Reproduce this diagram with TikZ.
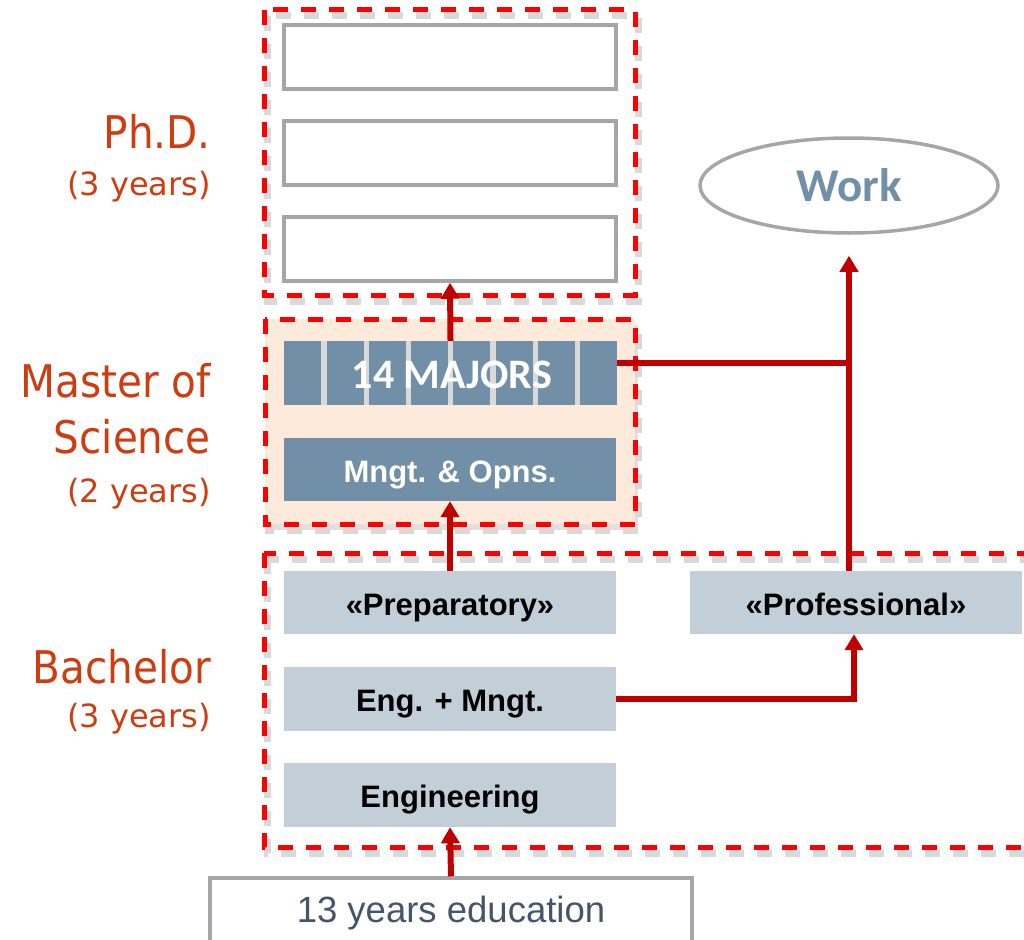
\documentclass[tikz,border=0pt]{standalone}
\usepackage{fontspec}
\setmainfont{Liberation Sans}
\newfontfamily\levelfont[FakeStretch=0.9]{DejaVu Sans}
\newfontfamily\yearfont{DejaVu Sans}
\newfontfamily\calibrifont{Carlito}
\usepackage{xcolor}
\usepackage{tikz}
\usetikzlibrary{calc,positioning,arrows.meta,shapes.geometric}

\definecolor{levelred}{RGB}{207,60,16}
\definecolor{dashred}{RGB}{255,0,0}
\definecolor{arrowred}{RGB}{192,0,0}
\definecolor{steel}{RGB}{113,143,166}
\definecolor{paleblue}{RGB}{194,206,216}
\definecolor{peach}{RGB}{253,234,218}
\definecolor{boxgrey}{RGB}{166,166,166}
\definecolor{gapgrey}{RGB}{217,217,217}
\definecolor{slate}{RGB}{68,84,106}

\begin{document}
\begin{tikzpicture}[x=1pt, y=-1pt,
    level/.style={dashred, line width=5pt, dash pattern=on 15pt off 13pt},
    level shadow/.style={black!15, line width=7pt, dash pattern=on 15pt off 13pt, shift={(3,6)}},
    emptybox/.style={draw=boxgrey, line width=3.5pt, fill=white, minimum width=332pt, minimum height=64pt, inner sep=0},
    darkbox/.style={fill=steel, text=white, font=\bfseries\fontsize{31}{36}\selectfont, text height=25pt, text depth=0pt, minimum width=332pt, minimum height=63pt, inner sep=0},
    lightbox/.style={fill=paleblue, text=black, font=\bfseries\fontsize{31}{36}\selectfont, text height=25pt, text depth=0pt, minimum width=332pt, minimum height=63pt, inner sep=0},
    level name/.style={text=levelred, font=\levelfont\fontsize{45}{50}\selectfont, anchor=base east, inner sep=0},
    level years/.style={text=levelred, font=\yearfont\fontsize{32}{36}\selectfont, anchor=base east, inner sep=0},
    link/.style={arrowred, line width=6pt, -{Triangle[width=18pt,length=16pt]}},
    joint/.style={arrowred, line width=6pt}
]
    \useasboundingbox (0,0) rectangle (1024,939);
    \clip (0,0) rectangle (1024,939);

    % level frames
    \draw[level shadow] (264,10) rectangle (635,295);
    \draw[level shadow, fill=black!12] (265,319) rectangle (635,524);
    \draw[level shadow] (264,553) rectangle (1040,847);
    \fill[peach] (265,319) rectangle (635,524);
    \draw[level] (264,10) rectangle (635,295);
    \draw[level] (265,319) rectangle (635,524);
    \draw[level] (264,553) rectangle (1040,847);

    % Ph.D.
    \node [emptybox] (phd_box1) at (450,57) {};
    \node [emptybox] (phd_box2) at (450,153) {};
    \node [emptybox] (phd_box3) at (450,249) {};

    % Master
    \node [fill=gapgrey, minimum width=333pt, minimum height=64pt, inner sep=0] (majors) at (450.5,373) {};
    \foreach \i in {0,...,7}
        \node [fill=steel, minimum width=37pt, minimum height=64pt, inner sep=0, anchor=west] (major_\i) at ($(284,373)+(\i*42.3,0)$) {};
    \node [text=white, font=\calibrifont\bfseries\fontsize{42}{48}\selectfont, inner sep=0] (majors_text) at (452,375) {14 MAJORS};
    \node [darkbox] (mngt) at (450,469.5) {Mngt. \& Opns.};

    % Bachelor
    \node [lightbox] (preparatory) at (450,602.5) {«Preparatory»};
    \node [lightbox] (professional) at (856,602.5) {«Professional»};
    \node [lightbox, minimum height=64pt] (eng_mngt) at (450,699) {Eng. + Mngt.};
    \node [lightbox, minimum height=64pt] (engineering) at (450,795) {Engineering};

    \node [draw=boxgrey, line width=3.5pt, minimum width=482pt, minimum height=70pt, inner sep=0,
           text=slate, font=\fontsize{36.5}{42}\selectfont] (school) at (451,913) {13 years education};

    \node [ellipse, draw=boxgrey, line width=3.5pt, minimum width=298pt, minimum height=95pt, inner sep=0,
           text=steel, font=\calibrifont\bfseries\fontsize{47}{54}\selectfont] (work) at (849,185.5) {Work};

    % level names
    \node [level name] (phd_name) at (211,148) {Ph.D.};
    \node [level years] (phd_years) at (211,195) {(3 years)};
    \node [level name] (master_name1) at (211,397) {Master of};
    \node [level name] (master_name2) at (211,453) {Science};
    \node [level years] (master_years) at (211,502) {(2 years)};
    \node [level name] (bachelor_name) at (211,683) {Bachelor};
    \node [level years] (bachelor_years) at (211,727) {(3 years)};

    % paths
    \draw[link] (school.north) -- (engineering.south);
    \draw[link] (preparatory.north) -- (mngt.south);
    \draw[link] (majors.north) -- (phd_box3.south);
    \draw[link] (work.south |- professional.north) -- ([yshift=-21pt]work.south);
    \draw[joint] ([yshift=10pt]majors.east) -- ([yshift=10pt]majors.east -| work.south);
    \draw[link] (eng_mngt.east) -| ([xshift=-2pt]professional.south);
\end{tikzpicture}
\end{document}
